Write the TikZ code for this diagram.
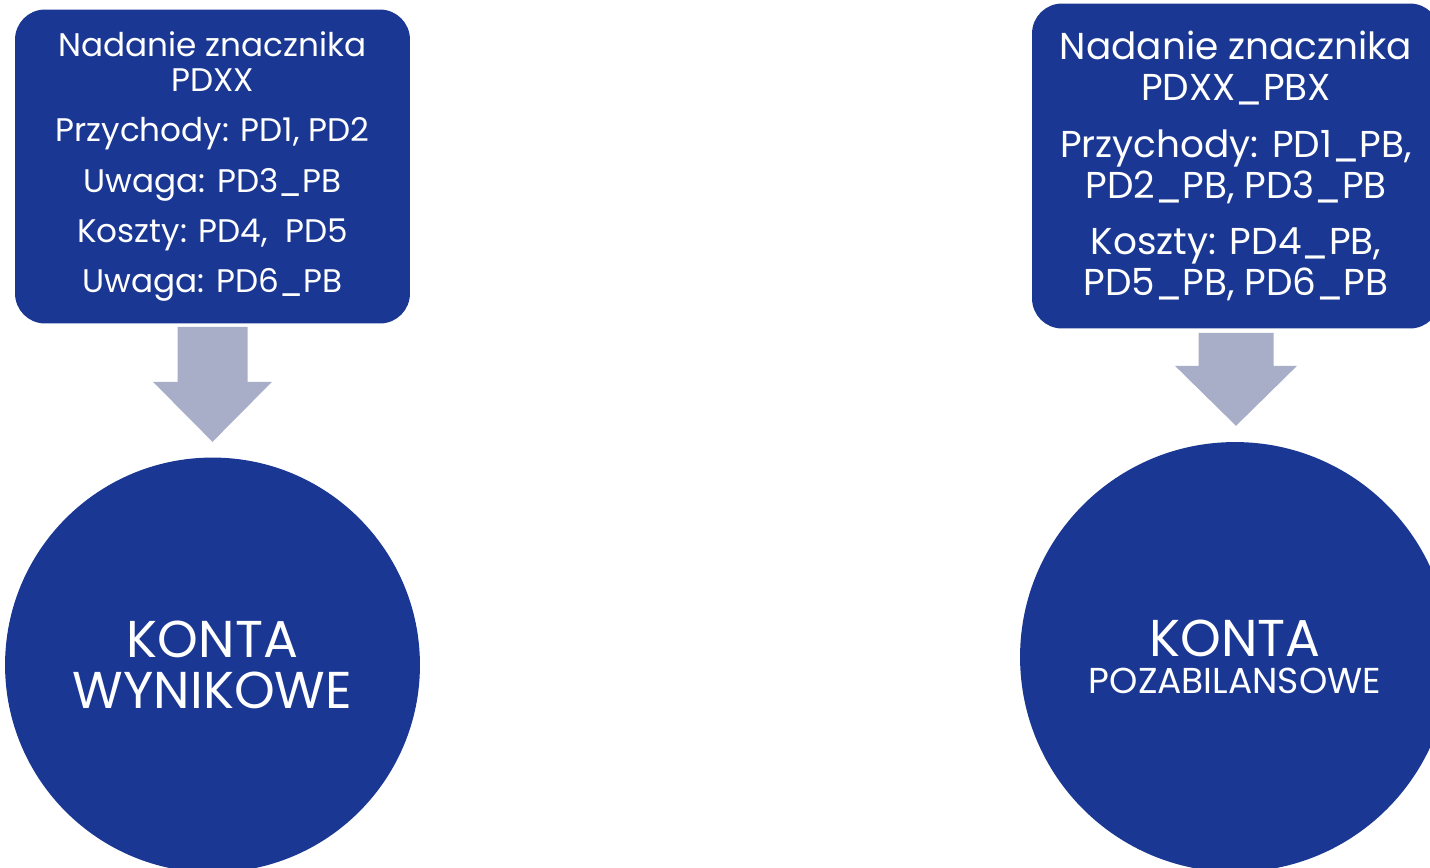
\documentclass[tikz,border=0pt]{standalone}
\usepackage{fontspec}
\setmainfont{Poppins}
\usetikzlibrary{calc}
\definecolor{kontablue}{RGB}{26,55,147}
\definecolor{arrowgray}{RGB}{169,174,200}
\tikzset{
  tagbox/.style={fill=kontablue, text=white, rounded corners=0.6cm, align=center, inner sep=0pt},
  konto/.style={circle, fill=kontablue, text=white, align=center, inner sep=0pt},
  blockarrow/.style={fill=arrowgray}
}
\begin{document}
\begin{tikzpicture}[x=0.02cm, y=-0.02cm]
\useasboundingbox (0,0) rectangle (1430,867);
\clip (0,0) rectangle (1430,867);
% boxes with the tags
\node[tagbox, minimum width=7.9cm, minimum height=6.28cm, font=\fontsize{18.6}{19.9}\selectfont] (tagL) at (212.5,166.5)
  {Nadanie znacznika\\PDXX\\[8.6pt]
   Przychody: PD1, PD2\\[8.6pt]
   Uwaga: PD3\_PB\\[8.6pt]
   Koszty: PD4,\ \ PD5\\[8.6pt]
   Uwaga: PD6\_PB};
\node[tagbox, minimum width=8.16cm, minimum height=6.5cm, font=\fontsize{21.3}{23.3}\selectfont] (tagR) at (1236,166)
  {Nadanie znacznika\\PDXX\_PBX\\[9pt]
   Przychody: PD1\_PB,\\PD2\_PB, PD3\_PB\\[9pt]
   Koszty: PD4\_PB,\\PD5\_PB, PD6\_PB};
% accounts
\node[konto, minimum size=8.3cm, font=\fontsize{29.5}{29}\selectfont] (kontoL) at (212.5,665) {KONTA\\WYNIKOWE};
\node[konto, minimum size=8.6cm, font=\fontsize{29.5}{21}\selectfont] (kontoR) at (1235,657)
  {KONTA\\{\fontsize{20.5}{21}\selectfont POZABILANSOWE}};
% arrows
\fill[blockarrow, shift={(tagL.south)}] (-35,3) -- (35,3) -- (35,58) -- (59.5,58) -- (0,118) -- (-59.5,58) -- (-35,58) -- cycle;
\fill[blockarrow, shift={(tagR.south)}] (-37.5,4) -- (37.5,4) -- (37.5,37) -- (61,37) -- (0,97) -- (-61,37) -- (-37.5,37) -- cycle;
\end{tikzpicture}
\end{document}
